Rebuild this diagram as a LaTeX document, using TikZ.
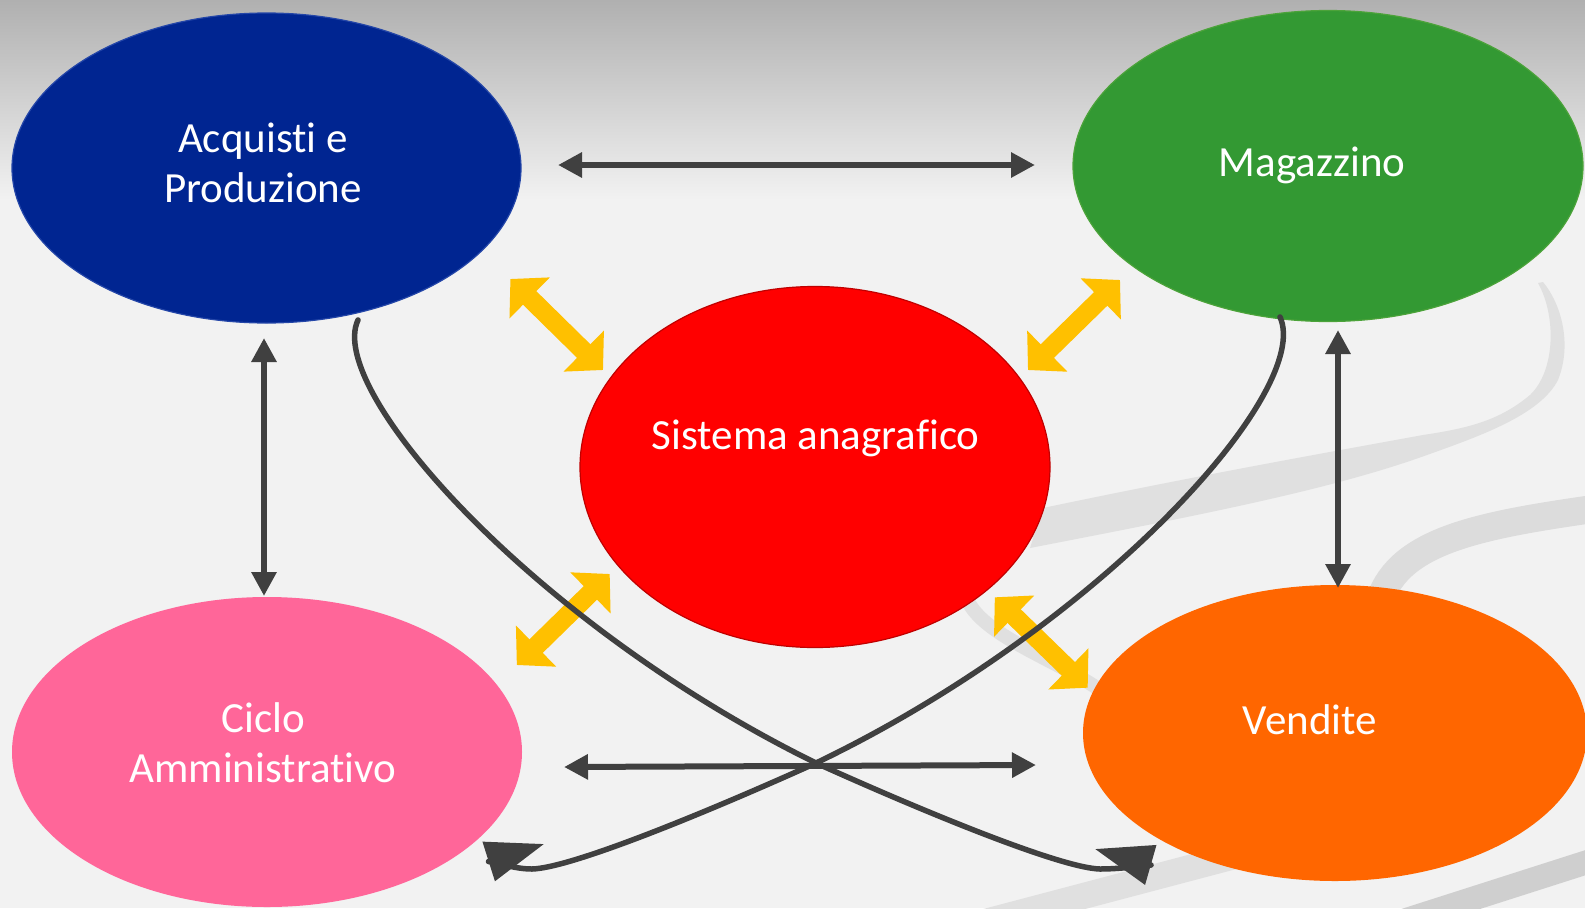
\documentclass[tikz,border=0pt]{standalone}
\usepackage{fontspec}
\setmainfont[Ligatures={NoCommon}]{Carlito}
\usetikzlibrary{arrows.meta,shapes.geometric}
\definecolor{bgc}{HTML}{F2F2F2}
\definecolor{bgtop}{HTML}{B0B0B0}
\definecolor{acqc}{HTML}{002591}
\definecolor{acqe}{HTML}{2446A8}
\definecolor{magc}{HTML}{339933}
\definecolor{mage}{HTML}{4CA33A}
\definecolor{sisc}{HTML}{FF0000}
\definecolor{sise}{HTML}{C00000}
\definecolor{cicc}{HTML}{FF6699}
\definecolor{venc}{HTML}{FF6600}
\definecolor{yelc}{HTML}{FFC000}
\definecolor{arrc}{HTML}{404040}
\definecolor{banda}{HTML}{E0E0E0}
\definecolor{bandb}{HTML}{DCDCDC}
\definecolor{bandd}{HTML}{CFCFCF}
\begin{document}
\begin{tikzpicture}[x=1pt,y=-1pt,
  blob/.style={ellipse, inner sep=0pt, line width=1.2pt},
  lbl/.style={text=white, font=\fontsize{43}{50}\selectfont, inner sep=0pt, align=center, anchor=base},
  link/.style={draw=arrc, line width=6pt, {Triangle[length=24pt,width=24pt]}-{Triangle[length=24pt,width=24pt]}},
  swing/.style={draw=arrc, line width=5.5pt, line cap=round, line join=round, -{Triangle[length=58pt,width=40pt]}},
  fat/.style={draw=yelc, line width=19pt, {Triangle[length=27pt,width=56pt]}-{Triangle[length=27pt,width=56pt]}},
  band/.style={line width=24pt, line cap=round}]
% background
\fill[bgc] (0,0) rectangle (1585,908);
\shade[top color=bgtop, bottom color=bgc] (0,0) rectangle (1585,200);
\useasboundingbox (0,0) rectangle (1585,908);
% decorative bands
\draw[band, draw=banda, line width=14pt] (1040,528) .. controls (980,545) and (952,580) .. (972,608) .. controls (995,640) and (1060,662) .. (1100,690);
\fill[banda] (1538,283) .. controls (1556,315) and (1556,370) .. (1530,395) .. controls (1500,420) and (1470,428) .. (1423,435) .. controls (1330,452) and (1200,475) .. (1043,508)
  -- (1030,548) .. controls (1200,515) and (1330,490) .. (1427,455) .. controls (1480,436) and (1540,415) .. (1558,380) .. controls (1572,345) and (1562,305) .. (1543,282) -- cycle;
\draw[band, draw=bandb, line width=28pt] (1600,508) .. controls (1480,525) and (1400,540) .. (1380,600);
\draw[band, draw=banda, line width=26pt] (985,922) -- (1250,852);
\draw[band, draw=bandd] (1400,922) -- (1600,858);
% ellipses
\node[blob, fill=acqc, draw=acqe, minimum width=509pt, minimum height=310pt] (acq) at (266.5,168) {};
\node[blob, fill=magc, draw=mage, minimum width=510pt, minimum height=311pt] (mag) at (1328,166) {};
\node[blob, fill=sisc, draw=sise, minimum width=470pt, minimum height=361pt] (sis) at (815,467) {};
\node[blob, fill=cicc, minimum width=510pt, minimum height=310pt] (cic) at (267,752) {};
\node[blob, fill=venc, minimum width=504pt, minimum height=296pt] (ven) at (1335,733) {};
% labels (base = baseline of the last line)
\node[lbl] (acqt) at (263,202) {Acquisti e\\Produzione};
\node[lbl] (magt) at (1312,176) {Magazzino};
\node[lbl] (sist) at (815.7,449.3) {Sistema anagrafico};
\node[lbl] (cict) at (263,782) {Ciclo\\Amministrativo};
\node[lbl] (vent) at (1310,734.7) {Vendite};
% yellow arrows
\coordinate (y1a) at (510.4,279); \coordinate (y1b) at (603,370);
\coordinate (y2a) at (1120,280);  \coordinate (y2b) at (1028,370);
\coordinate (y3a) at (609.7,574); \coordinate (y3b) at (516.8,665);
\coordinate (y4a) at (994.8,597.3); \coordinate (y4b) at (1087.7,687.7);
\draw[fat] (y1a) -- (y1b);
\draw[fat] (y2a) -- (y2b);
\draw[fat] (y3a) -- (y3b);
\draw[fat] (y4a) -- (y4b);
% straight links
\coordinate (h1a) at (558,165); \coordinate (h1b) at (1035,165);
\coordinate (v1a) at (264,338); \coordinate (v1b) at (264,596);
\coordinate (v2a) at (1338,330); \coordinate (v2b) at (1338,588);
\coordinate (h2a) at (564,767); \coordinate (h2b) at (1036,765);
\draw[link] (h1a) -- (h1b);
\draw[link] (v1a) -- (v1b);
\draw[link] (v2a) -- (v2b);
\draw[link] (h2a) -- (h2b);
% crossing curves (their tips turn back, as in the reference)
\coordinate (c1s) at (358,320); \coordinate (c1e) at (1095,849);
\coordinate (c2s) at (1280,317); \coordinate (c2e) at (544,844);
\draw[swing] (c1s) .. controls (325,390) and (535,625) .. (816,763) .. controls (920,810) and (1060,868) .. (1100,869) .. controls (1120,869) and (1140,866) .. (1151,865) -- (c1e);
\draw[swing] (c2s) .. controls (1313,390) and (1103,625) .. (816,763) .. controls (712,810) and (572,868) .. (532,869) .. controls (514,869) and (498,862.5) .. (488.5,861.5) -- (c2e);
\end{tikzpicture}
\end{document}
